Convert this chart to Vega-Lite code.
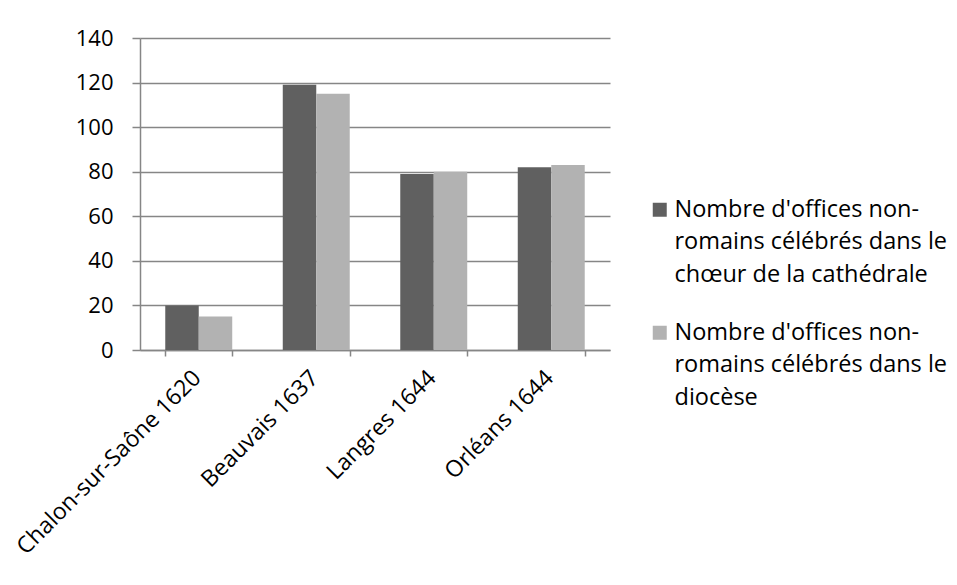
{
  "$schema": "https://vega.github.io/schema/vega-lite/v6.json",
  "width": 470,
  "height": 312,
  "autosize": {"type": "none"},
  "padding": {"left": 140, "top": 38, "right": 347, "bottom": 235},
  "background": "white",
  "data": {
    "values": [
      {"city": "Chalon-sur-Saône 1620", "series": "Nombre d'offices non-romains célébrés dans le chœur de la cathédrale", "value": 20},
      {"city": "Chalon-sur-Saône 1620", "series": "Nombre d'offices non-romains célébrés dans le diocèse", "value": 15},
      {"city": "Beauvais 1637", "series": "Nombre d'offices non-romains célébrés dans le chœur de la cathédrale", "value": 119},
      {"city": "Beauvais 1637", "series": "Nombre d'offices non-romains célébrés dans le diocèse", "value": 115},
      {"city": "Langres 1644", "series": "Nombre d'offices non-romains célébrés dans le chœur de la cathédrale", "value": 79},
      {"city": "Langres 1644", "series": "Nombre d'offices non-romains célébrés dans le diocèse", "value": 80},
      {"city": "Orléans 1644", "series": "Nombre d'offices non-romains célébrés dans le chœur de la cathédrale", "value": 82},
      {"city": "Orléans 1644", "series": "Nombre d'offices non-romains célébrés dans le diocèse", "value": 83}
    ]
  },
  "mark": {"type": "bar"},
  "encoding": {
    "x": {
      "field": "city",
      "type": "nominal",
      "sort": null,
      "scale": {"paddingInner": 0.43, "paddingOuter": 0.215},
      "axis": {
        "title": null,
        "tickBand": "extent",
        "labelAngle": -45,
        "labelAlign": "right",
        "labelBaseline": "middle",
        "labelPadding": 18,
        "labelOffset": -2,
        "labelLimit": 0,
        "labelFontSize": 23,
        "tickSize": 6,
        "domainColor": "#868686",
        "domainWidth": 1.5,
        "tickColor": "#868686",
        "tickWidth": 1.5,
        "grid": false
      }
    },
    "xOffset": {"field": "series", "type": "nominal"},
    "y": {
      "field": "value",
      "type": "quantitative",
      "scale": {"domain": [0, 140]},
      "axis": {
        "title": null,
        "values": [0, 20, 40, 60, 80, 100, 120, 140],
        "tickSize": 8,
        "labelPadding": 19,
        "domainColor": "#868686",
        "domainWidth": 1.5,
        "tickColor": "#868686",
        "tickWidth": 1.5,
        "gridColor": "#868686",
        "gridWidth": 1.5
      }
    },
    "color": {
      "field": "series",
      "type": "nominal",
      "scale": {"range": ["#606060", "#b2b2b2"]},
      "legend": {
        "title": null,
        "orient": "none",
        "legendX": 508,
        "legendY": 160,
        "symbolType": "square",
        "symbolSize": 196,
        "symbolStrokeWidth": 0,
        "labelLimit": 0,
        "labelOffset": 3,
        "rowPadding": 33,
        "labelExpr": "test(/cathédrale/, datum.label) ? [\"Nombre d'offices non-\", \"romains célébrés dans le\", \"chœur de la cathédrale\"] : [\"Nombre d'offices non-\", \"romains célébrés dans le\", \"diocèse\"]",
        "encode": {
          "labels": {"update": {"lineHeight": {"value": 32.5}}}
        }
      }
    }
  },
  "config": {
    "font": "Open Sans",
    "view": {"stroke": null},
    "axis": {"labelFont": "Open Sans", "labelFontSize": 22, "labelColor": "#000000"},
    "legend": {"labelFont": "Open Sans", "labelFontSize": 23.5, "labelColor": "#000000"}
  }
}
